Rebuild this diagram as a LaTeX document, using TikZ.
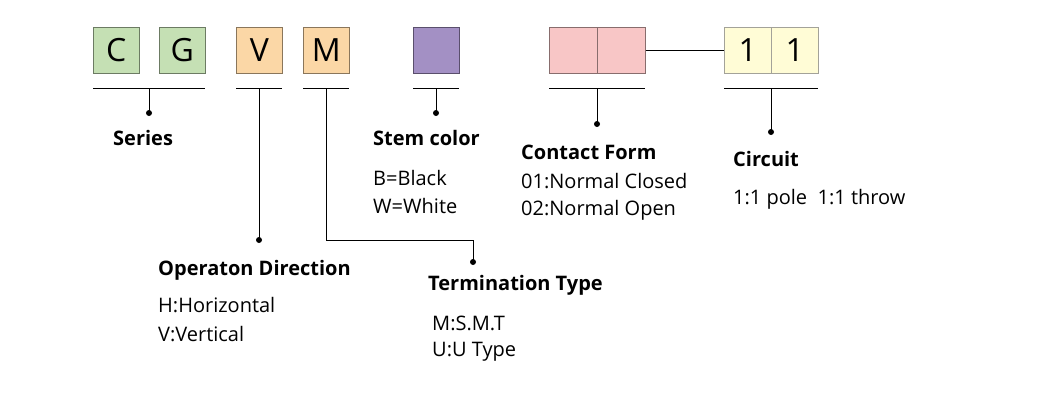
\documentclass[tikz,border=0pt]{standalone}
\usepackage{fontspec}
\setmainfont{Open Sans}
\begin{document}
\begin{tikzpicture}[x=1pt,y=-1pt,
 box/.style={draw=#1!55!black,line width=0.6pt,minimum width=46pt,minimum height=46pt,inner sep=0pt,anchor=north west,font=\fontsize{32}{32}\selectfont},
 ln/.style={line width=0.8pt,black},
 dot/.style={circle,fill=black,inner sep=0pt,minimum size=6pt},
 ttl/.style={anchor=west,inner sep=0pt,font=\fontsize{20}{20}\selectfont\bfseries},
 txt/.style={anchor=west,inner sep=0pt,font=\fontsize{20}{20}\selectfont}]
\useasboundingbox (0,0) rectangle (1047,410);
\definecolor{gr}{HTML}{C5E0B4}\definecolor{orr}{HTML}{FBD7A6}\definecolor{pu}{HTML}{A390C4}
\definecolor{pk}{HTML}{F8C6C6}\definecolor{ye}{HTML}{FFFCD6}
\node[box=gr,fill=gr] (c) at (93,27) {C};
\node[box=gr,fill=gr] (g) at (159,27) {G};
\node[box=orr,fill=orr] (v) at (236,27) {V};
\node[box=orr,fill=orr] (m) at (303,27) {M};
\node[box=pu,fill=pu] (s) at (413,27) {};
\node[box=pk,fill=pk,minimum width=48pt] (p1) at (549,27) {};
\node[box=pk,fill=pk,minimum width=48pt] (p2) at (597,27) {};
\node[box=ye,fill=ye,draw=ye!40!black!60,minimum width=47pt] (y1) at (724,27) {1};
\node[box=ye,fill=ye,draw=ye!40!black!60,minimum width=47pt] (y2) at (771,27) {1};
\draw[ln] (p2.east) -- (y1.west);
\coordinate (u1a) at (93,88); \coordinate (u1b) at (205,88);
\coordinate (u2a) at (236,88); \coordinate (u2b) at (282,88);
\coordinate (u3a) at (303,88); \coordinate (u3b) at (349,88);
\coordinate (u4a) at (413,88); \coordinate (u4b) at (459,88);
\coordinate (u5a) at (549,88); \coordinate (u5b) at (645,88);
\coordinate (u6a) at (724,88); \coordinate (u6b) at (818,88);
\foreach \i in {1,...,6} \draw[ln] (u\i a) -- (u\i b);
\node[dot] (d1) at (149,113) {}; \draw[ln] (149,88) -- (d1.center);
\node[dot] (d2) at (259,240) {}; \draw[ln] (259,88) -- (d2.center);
\node[dot] (d3) at (473,262) {}; \draw[ln] (326,88) |- (473,240) -- (d3.center);
\node[dot] (d4) at (436,113) {}; \draw[ln] (436,88) -- (d4.center);
\node[dot] (d5) at (597,124) {}; \draw[ln] (597,88) -- (d5.center);
\node[dot] (d6) at (771,132) {}; \draw[ln] (771,88) -- (d6.center);
\node[ttl] (t1) at (113,138) {Series};
\node[ttl] (t2) at (158,270) {Operaton Direction};
\node[txt] (a2) at (158,305) {H:Horizontal};
\node[txt] (b2) at (158,334) {V:Vertical};
\node[ttl] (t3) at (428,285) {Termination Type};
\node[txt] (a3) at (432,323) {M:S.M.T};
\node[txt] (b3) at (432,352) {U:U Type};
\node[ttl] (t4) at (373,138) {Stem color};
\node[txt] (a4) at (373,178) {B=Black};
\node[txt] (b4) at (373,206) {W=White};
\node[ttl] (t5) at (521,152) {Contact Form};
\node[txt] (a5) at (521,181) {01:Normal Closed};
\node[txt] (b5) at (521,210) {02:Normal Open};
\node[ttl] (t6) at (733,159) {Circuit};
\node[txt] (a6) at (733,199) {1:1 pole\ \ 1:1 throw};
\end{tikzpicture}
\end{document}
